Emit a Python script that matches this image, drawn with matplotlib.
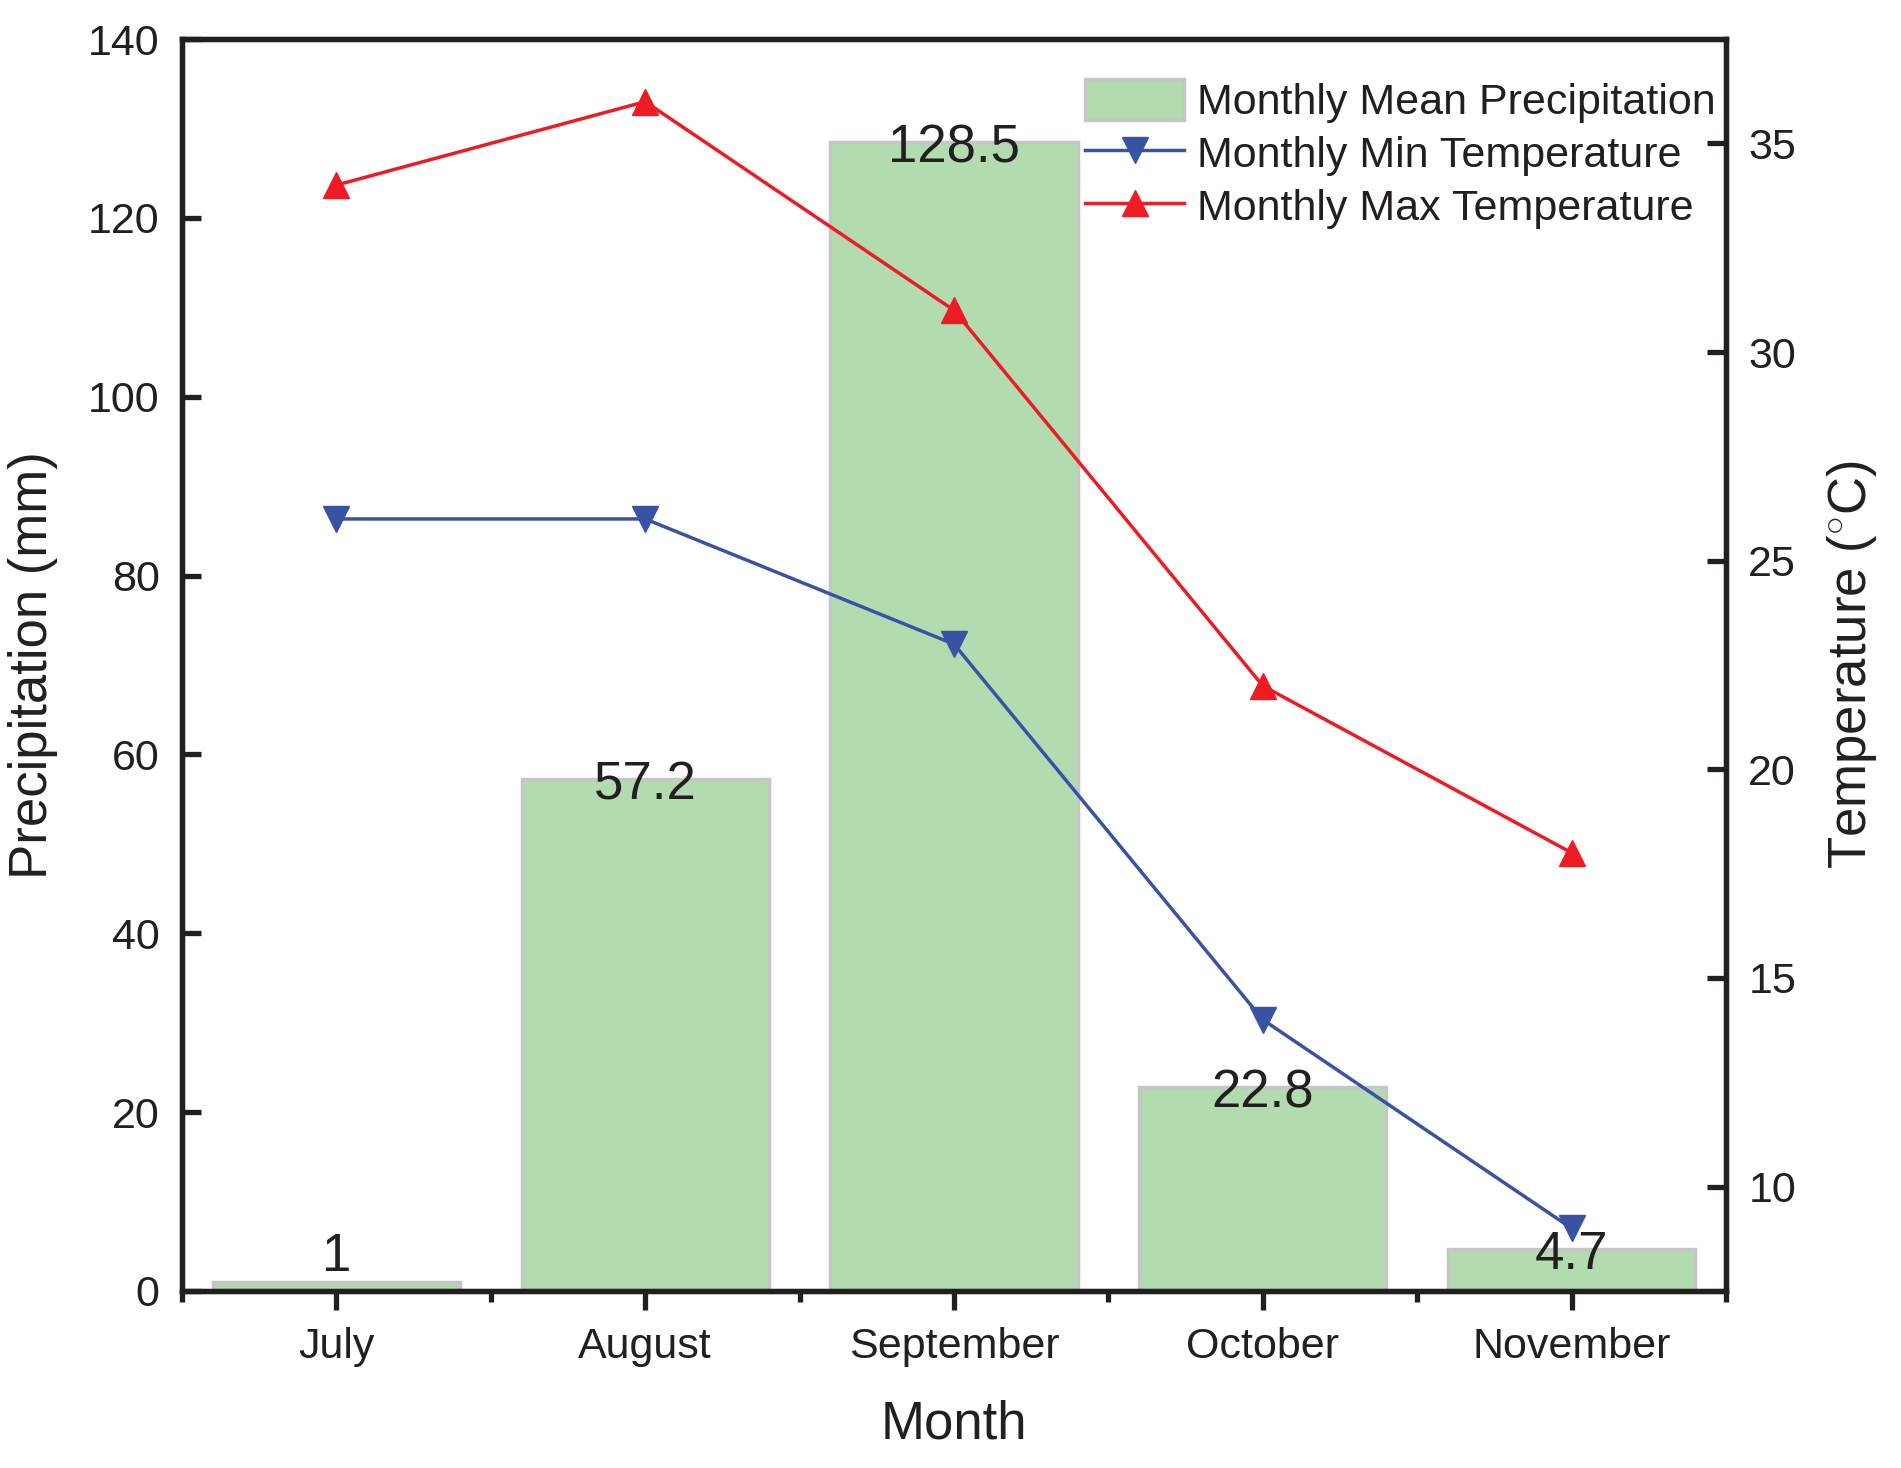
import matplotlib as mpl

mpl.use('Agg')

import matplotlib.pyplot as plt
import numpy as np
from matplotlib.ticker import FixedLocator

plt.rcParams['font.family'] = ['Liberation Sans', 'DejaVu Sans']
plt.rcParams['mathtext.fontset'] = 'custom'
plt.rcParams['mathtext.rm'] = 'Liberation Sans'

months = ["July", "August", "September", "October", "November"]
precip = [1, 57.2, 128.5, 22.8, 4.7]
precip_labels = ["1", "57.2", "128.5", "22.8", "4.7"]
t_min = [26, 26, 23, 14, 9]
t_max = [34, 36, 31, 22, 18]

BAR = '#b2dbb0'
EDGE = '#c6c6c6'
BLUE = '#3953a4'
RED = '#ed1c24'
INK = '#231f20'


def main():
    fig = plt.figure(figsize=(19.01, 14.68), dpi=100)
    ax = fig.add_axes([0.0957, 0.1206, 0.8123, 0.8528])
    ax2 = ax.twinx()

    x = np.arange(len(months))
    bars = ax.bar(x, precip, width=0.8, color=BAR, edgecolor=EDGE,
                  linewidth=2.5, label="Monthly Mean Precipitation")

    # value labels sit on the bar top, but never below the axis line
    for xi, v, s in zip(x, precip, precip_labels):
        ax.text(xi, max(v - 0.7, 3.8), s, ha='center', va='center',
                fontsize=38, color=INK)

    l1, = ax2.plot(x, t_min, color=BLUE, lw=2.5, marker='v', ms=19,
                   label="Monthly Min Temperature")
    l2, = ax2.plot(x, t_max, color=RED, lw=2.5, marker='^', ms=19,
                   label="Monthly Max Temperature")

    ax.set_xlim(-0.5, 4.5)
    ax.set_ylim(0, 140)
    ax2.set_ylim(7.5, 37.5)

    ax.set_xticks(x)
    ax.set_xticklabels(months)
    ax.xaxis.set_minor_locator(FixedLocator(np.arange(-0.5, 5, 1)))
    ax.set_yticks(np.arange(0, 141, 20))
    ax2.set_yticks(np.arange(10, 36, 5))

    for a in (ax, ax2):
        for sp in a.spines.values():
            sp.set_linewidth(3.8)
            sp.set_color(INK)
    ax.tick_params(axis='x', which='major', direction='out', length=14,
                   width=3.8, labelsize=31, pad=12, colors=INK)
    ax.tick_params(axis='x', which='minor', direction='out', length=8,
                   width=3.8, colors=INK)
    ax.tick_params(axis='y', direction='in', length=14, width=3.8,
                   labelsize=31, pad=16, colors=INK)
    ax2.tick_params(axis='y', direction='in', length=14, width=3.8,
                    labelsize=31, pad=16, colors=INK)

    ax.set_xlabel("Month", fontsize=38, color=INK)
    ax.set_ylabel("Precipitation (mm)", fontsize=38, color=INK)
    ax2.set_ylabel(r"Temperature ($^{\circ}$C)", fontsize=38, color=INK)
    ax.xaxis.set_label_coords(0.5, -0.087)
    ax.yaxis.set_label_coords(-0.080, 0.5)
    ax2.yaxis.set_label_coords(1.064, 0.5)

    leg = ax2.legend([bars, l1, l2],
                     [bars.get_label(), l1.get_label(), l2.get_label()],
                     loc='upper left', bbox_to_anchor=(0.585, 0.968),
                     frameon=False, fontsize=31, borderpad=0,
                     borderaxespad=0, labelspacing=0.2, handlelength=2.3,
                     handleheight=1.1, handletextpad=0.3)
    for t in leg.get_texts():
        t.set_color(INK)

    fig.savefig('out.png', dpi=100)


if __name__ == '__main__':
    main()
